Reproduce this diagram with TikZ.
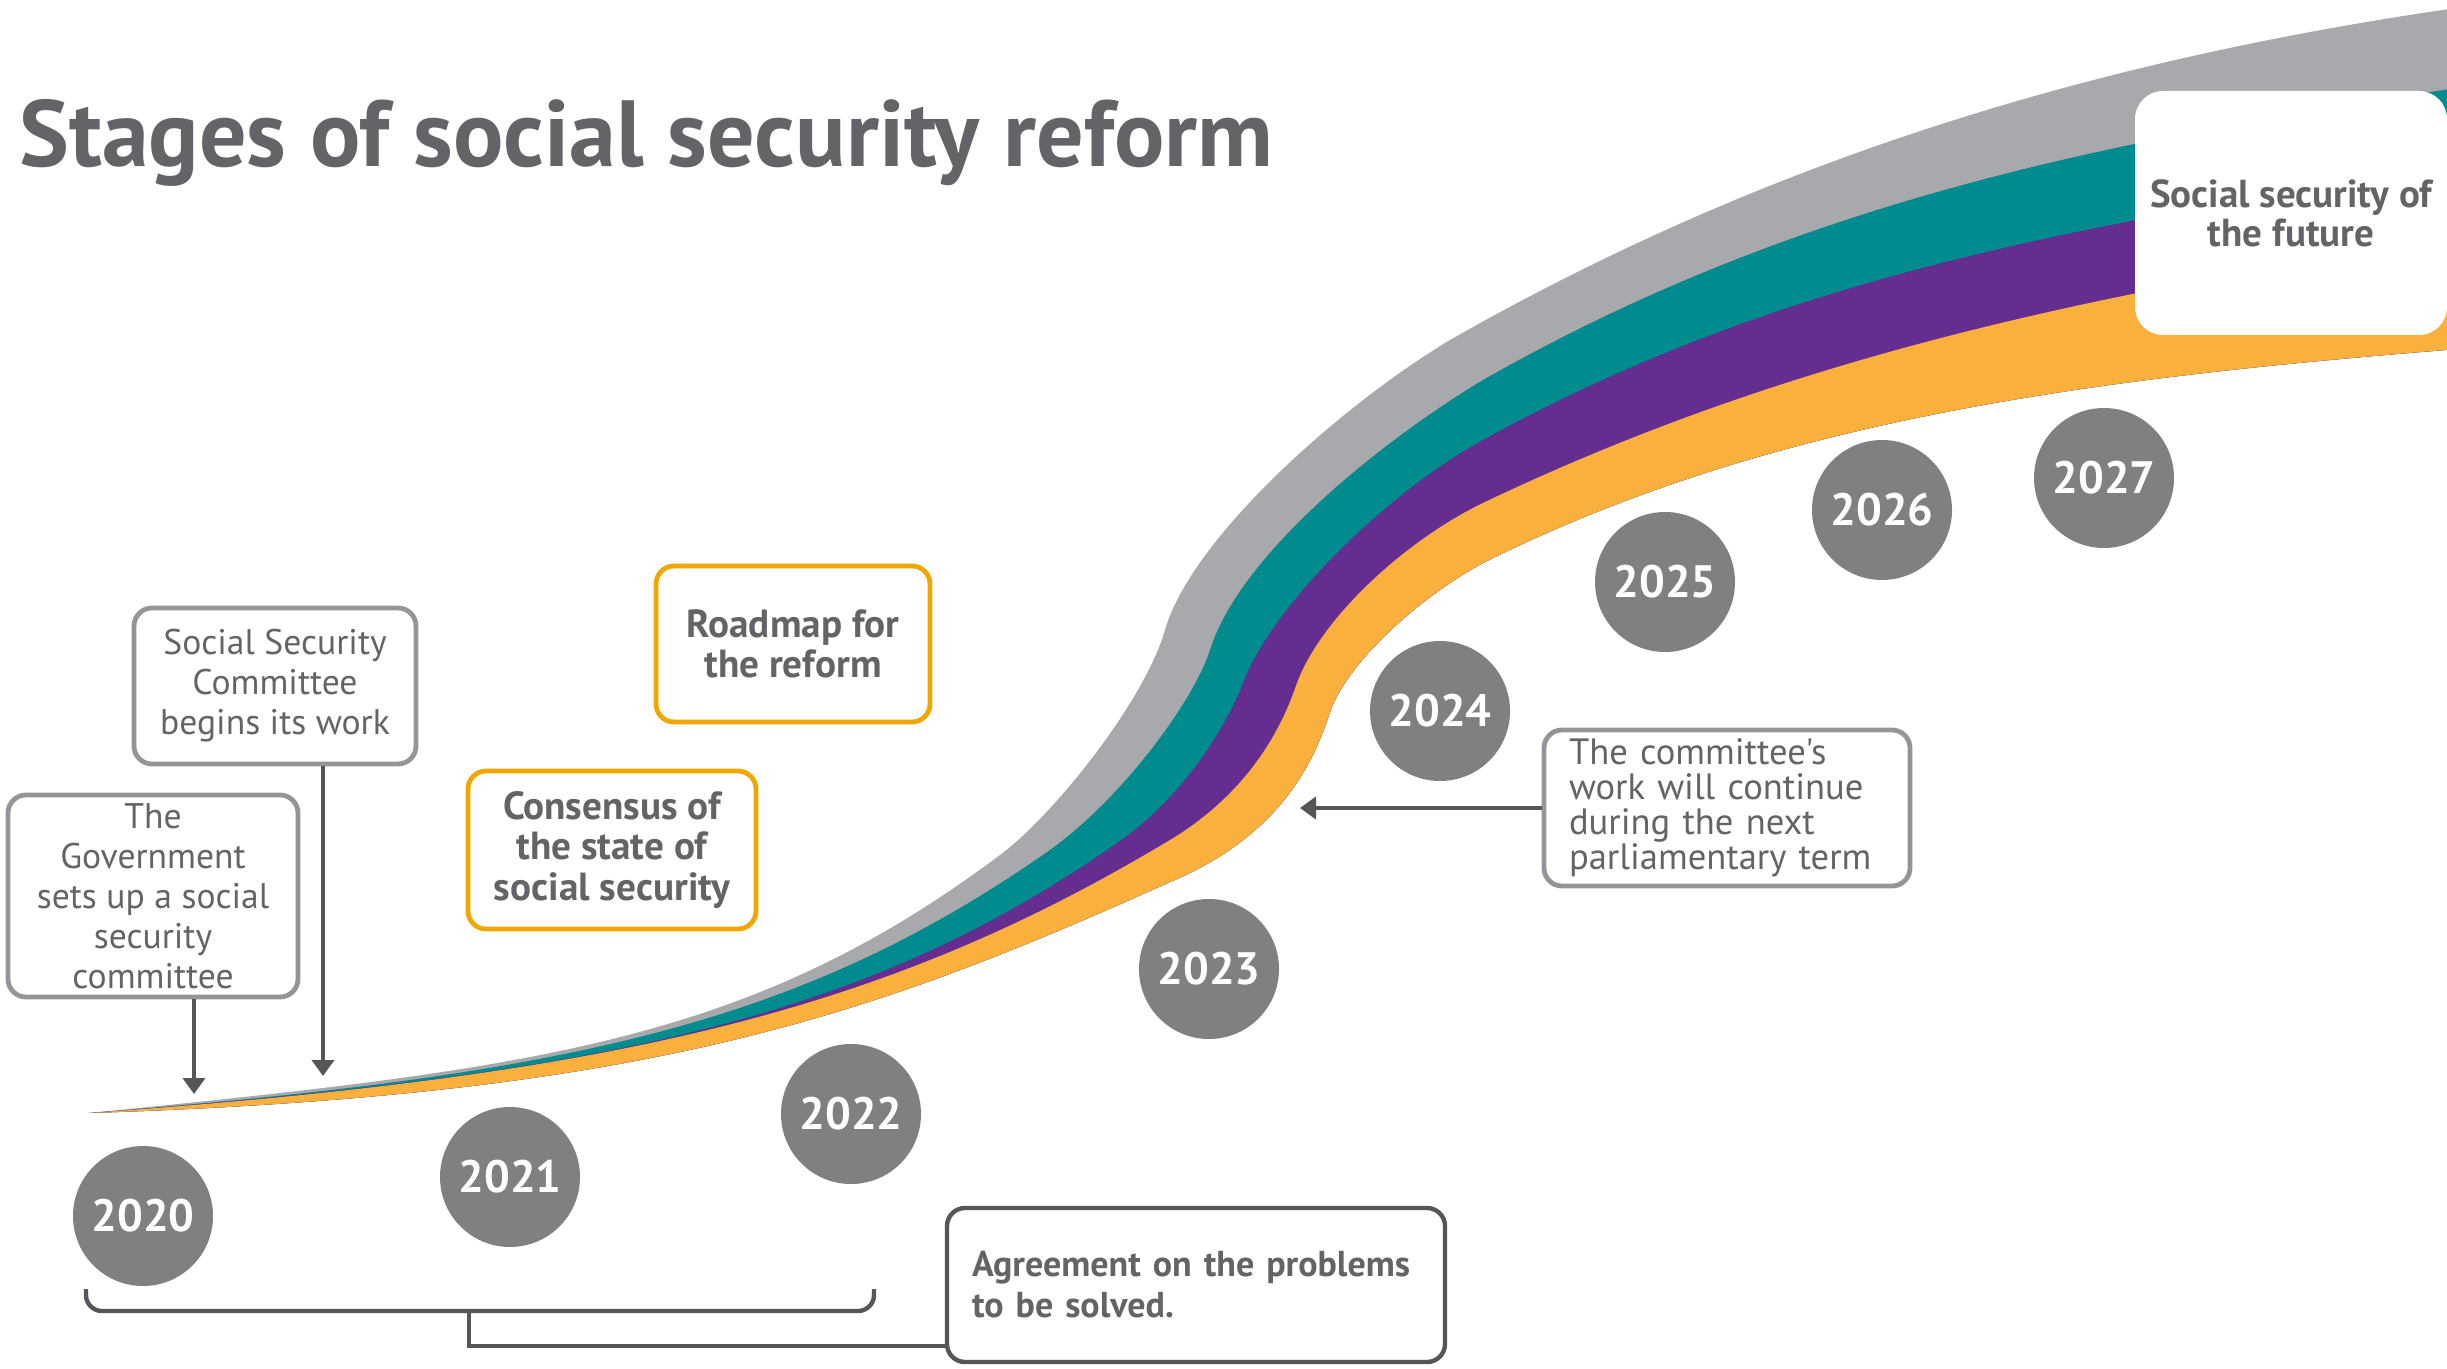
\documentclass[tikz,border=0pt]{standalone}
\usepackage{fontspec}
\setmainfont{PT Sans}[Ligatures=TeXOff]
\usetikzlibrary{arrows.meta}
\definecolor{ribgray}{HTML}{A7A9AC}
\definecolor{ribteal}{HTML}{008B8F}
\definecolor{ribpurple}{HTML}{662D91}
\definecolor{riborange}{HTML}{F9B03D}
\definecolor{circgray}{HTML}{808080}
\definecolor{txtgray}{HTML}{636467}
\definecolor{boxgray}{HTML}{939598}
\definecolor{boxorange}{HTML}{F0A800}
\definecolor{linedark}{HTML}{54575A}
\tikzset{
  graybox/.style={draw=boxgray, line width=2.4pt, rounded corners=9pt, fill=white, text=txtgray,
    font=\fontsize{17.8}{20}\selectfont, align=center, inner sep=0pt},
  orangebox/.style={draw=boxorange, line width=2.4pt, rounded corners=9pt, fill=white, text=txtgray,
    font=\bfseries\fontsize{19.6}{20.2}\selectfont, align=center, inner sep=0pt},
  darkbox/.style={draw=linedark, line width=2.2pt, rounded corners=9pt, fill=white, text=txtgray,
    font=\bfseries\fontsize{18}{20.5}\selectfont, align=left, inner xsep=12.5pt, inner ysep=0pt},
  futurebox/.style={fill=white, rounded corners=14pt, text=txtgray,
    font=\bfseries\fontsize{19.5}{19.5}\selectfont, align=center, inner sep=0pt},
  year/.style={circle, fill=circgray, minimum size=70pt, inner sep=0pt, text=white,
    font=\bfseries\fontsize{22.7}{22.7}\selectfont},
  arr/.style={draw=linedark, line width=2pt, -{Triangle[width=11pt,length=8pt]}},
  brk/.style={draw=linedark, line width=2.2pt}
}
\begin{document}
\begin{tikzpicture}[x=0.5pt,y=-0.5pt]
\useasboundingbox (0,0) rectangle (2447,1369);
\fill[white] (0,0) rectangle (2447,1369);
\begin{scope}
\clip (0,0) rectangle (2447,1369);
% gray band: top edge, then the common bottom edge back
\fill[ribgray] (89,1113) .. controls (539,1068) and (750,1042) .. (1000,855)
  .. controls (1055,814) and (1145,700) .. (1165,630)
  .. controls (1191,539) and (1340,406) .. (1450,340)
  .. controls (1790,146) and (2130,54) .. (2470,6)
  -- (2470,348) .. controls (2120,376) and (1783,413) .. (1483,563)
  .. controls (1413,601) and (1345,667) .. (1330,712)
  .. controls (1318,748) and (1290,832) .. (1170,882)
  .. controls (870,1017) and (650,1095) .. (89,1113) -- cycle;
% teal band
\fill[ribteal] (89,1113) .. controls (569,1075) and (800,1025) .. (1050,850)
  .. controls (1125,796) and (1195,698) .. (1210,650)
  .. controls (1240,554) and (1383,440) .. (1483,380)
  .. controls (1813,192) and (2140,136) .. (2470,86)
  -- (2470,348) .. controls (2120,376) and (1783,413) .. (1483,563)
  .. controls (1413,601) and (1345,667) .. (1330,712)
  .. controls (1318,748) and (1290,832) .. (1170,882)
  .. controls (870,1017) and (650,1095) .. (89,1113) -- cycle;
% purple band
\fill[ribpurple] (89,1113) .. controls (590,1075) and (857,1025) .. (1117,843)
  .. controls (1180,800) and (1225,730) .. (1243,683)
  .. controls (1275,600) and (1393,489) .. (1483,440)
  .. controls (1813,258) and (2140,220) .. (2470,161)
  -- (2470,348) .. controls (2120,376) and (1783,413) .. (1483,563)
  .. controls (1413,601) and (1345,667) .. (1330,712)
  .. controls (1318,748) and (1290,832) .. (1170,882)
  .. controls (870,1017) and (650,1095) .. (89,1113) -- cycle;
% orange band
\fill[riborange] (89,1113) .. controls (629,1075) and (890,1008) .. (1170,840)
  .. controls (1265,783) and (1290,702) .. (1297,683)
  .. controls (1322,616) and (1408,539) .. (1483,503)
  .. controls (1813,345) and (2140,286) .. (2470,236)
  -- (2470,348) .. controls (2120,376) and (1783,413) .. (1483,563)
  .. controls (1413,601) and (1345,667) .. (1330,712)
  .. controls (1318,748) and (1290,832) .. (1170,882)
  .. controls (870,1017) and (650,1095) .. (89,1113) -- cycle;
% future box
\node[futurebox, minimum width=156pt, minimum height=122pt] (future) at (2291,213) {Social security of\\the future};
\end{scope}

% title
\node[anchor=base west, inner sep=0pt, text=txtgray, font=\bfseries\fontsize{47}{47}\selectfont] (title) at (19,167) {Stages of social security reform};

% years
\node[year] (y2020) at (143,1216) {2020};
\node[year] (y2021) at (510,1177) {2021};
\node[year] (y2022) at (851,1114) {2022};
\node[year] (y2023) at (1209,969) {2023};
\node[year] (y2024) at (1440,711) {2024};
\node[year] (y2025) at (1665,582) {2025};
\node[year] (y2026) at (1882,510) {2026};
\node[year] (y2027) at (2104,478) {2027};

% boxes
\node[graybox, minimum width=145pt, minimum height=101pt] (gov) at (153,896) {The\\Government\\sets up a social\\security\\committee};
\node[graybox, minimum width=141pt, minimum height=78pt] (ssc) at (275,686) {Social Security\\Committee\\begins its work};
\node[orangebox, minimum width=137pt, minimum height=78pt] (road) at (793,644) {Roadmap for\\the reform};
\node[orangebox, minimum width=144pt, minimum height=79pt] (cons) at (612,850) {Consensus of\\the state of\\social security};
\node[graybox, align=left, text width=158pt, inner xsep=12.5pt, minimum height=78pt,
  font=\fontsize{18.3}{17.5}\selectfont] (com) at (1727,808) {The committee's\\work will continue\\during the next\\parliamentary term};
\node[darkbox, text width=224pt, minimum height=77pt] (agr) at (1196,1285) {Agreement on the problems\\to be solved.};

% arrows
\coordinate (govtip) at (194,1094);
\coordinate (ssctip) at (323,1076);
\coordinate (comtip) at (1300,808);
\draw[arr] (gov.south -| govtip) -- (govtip);
\draw[arr] (ssc.south -| ssctip) -- (ssctip);
\draw[arr] (com.west) -- (comtip);

% bracket
\coordinate (brL) at (86,1289);
\coordinate (brR) at (874,1289);
\coordinate (brM) at (469,1311);
\coordinate (brJ) at (469,1346);
\draw[brk, rounded corners=8pt] (brL) -- (86,1311) -- (874,1311) -- (brR);
\draw[brk] (brM) -- (brJ) -- (agr.west |- brJ);
\end{tikzpicture}
\end{document}
